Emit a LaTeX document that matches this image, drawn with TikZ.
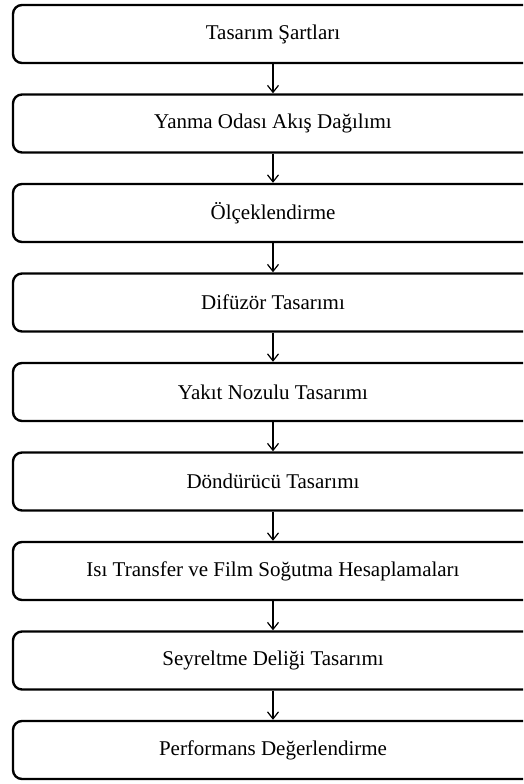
\documentclass[tikz,border=0pt]{standalone}
\usepackage{fontspec}
\setmainfont{Liberation Serif}
\usetikzlibrary{arrows.meta}
\begin{document}
\begin{tikzpicture}[x=1pt,y=-1pt,
  stepbox/.style={draw=black, line width=2.4pt, rounded corners=9pt,
    minimum width=520pt, minimum height=58pt, inner sep=0pt,
    font=\fontsize{21}{24}\selectfont},
  flow/.style={draw=black, line width=1.2pt,
    -{Straight Barb[length=7pt,width=11pt,line width=1.2pt]}}]
  \useasboundingbox (0,0) rectangle (523,784);
  \clip (0,0) rectangle (523,784);
  \foreach \name/\txt [count=\i from 0] in {
      s1/{Tasarım Şartları},
      s2/{Yanma Odası Akış Dağılımı},
      s3/{Ölçeklendirme},
      s4/{Difüzör Tasarımı},
      s5/{Yakıt Nozulu Tasarımı},
      s6/{Döndürücü Tasarımı},
      s7/{Isı Transfer ve Film Soğutma Hesaplamaları},
      s8/{Seyreltme Deliği Tasarımı},
      s9/{Performans Değerlendirme}}
    \node[stepbox] (\name) at (273, 34+89.5*\i) {\txt};
  \foreach \a/\b in {s1/s2,s2/s3,s3/s4,s4/s5,s5/s6,s6/s7,s7/s8,s8/s9}
    \draw[flow] (\a.south) -- (\b.north);
\end{tikzpicture}
\end{document}
